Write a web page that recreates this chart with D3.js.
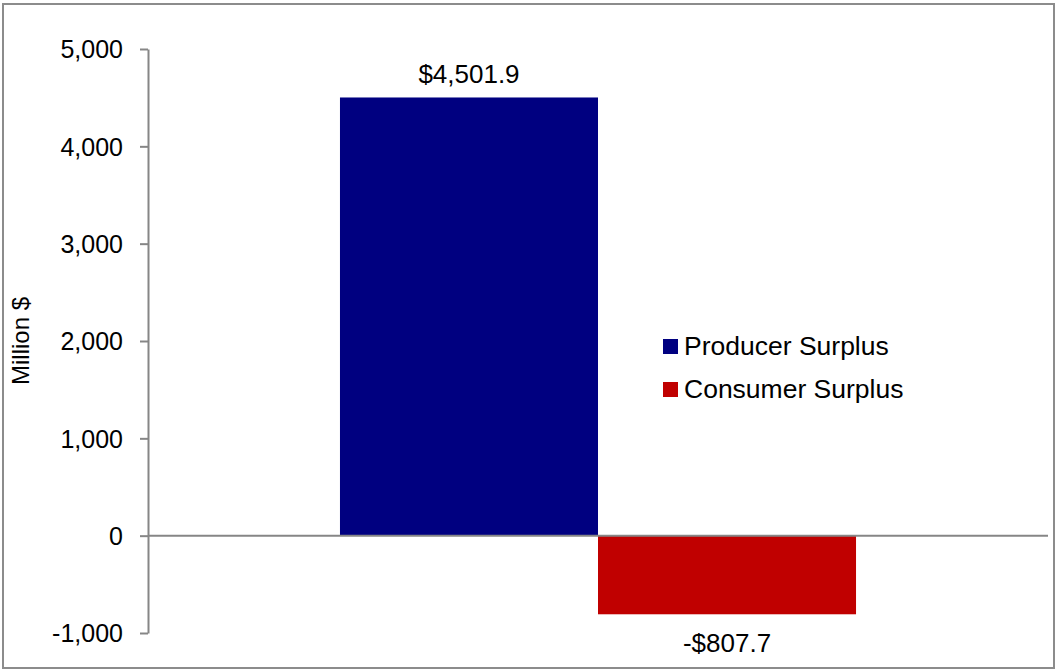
<!DOCTYPE html>
<html>
<head>
<meta charset="utf-8">
<script src="https://cdn.jsdelivr.net/npm/d3@7"></script>
<style>
  body { margin: 0; background: #fff; }
  svg text { font-family: "Liberation Sans", Arial, sans-serif; fill: #000; }
</style>
</head>
<body>
<svg id="chart"></svg>
<script>
// chart data
const categories = [''];
const seriesNames = ['Producer Surplus', 'Consumer Surplus'];
const seriesValues = [4501.9, -807.7];
const seriesLabels = ['$4,501.9', '-$807.7'];
const seriesColors = ['#000080', '#C00000'];
const yTicks = [-1000, 0, 1000, 2000, 3000, 4000, 5000];

const width = 1056, height = 670;
const margin = {top: 49, right: 8, bottom: 37, left: 148};
const innerW = width - margin.left - margin.right;
const innerH = height - margin.top - margin.bottom;

const svg = d3.select('#chart')
  .attr('width', width)
  .attr('height', height);

// outer frame
svg.append('rect')
  .attr('x', 3).attr('y', 4)
  .attr('width', 1051).attr('height', 664)
  .attr('fill', 'none')
  .attr('stroke', '#8c8c8c')
  .attr('stroke-width', 2);

const chart = svg.append('g')
  .attr('transform', `translate(${margin.left},${margin.top})`);

const yScale = d3.scaleLinear()
  .domain([-1000, 5000])
  .range([innerH, 0]);

const xScale = d3.scaleBand()
  .domain(categories)
  .range([0, innerW])
  .paddingInner(0)
  .paddingOuter(0.372);

const xSub = d3.scaleBand()
  .domain(seriesNames)
  .range([0, xScale.bandwidth()]);

// y axis, plain hyphen for negatives like the original
const fmt = d3.format(',');
const yAxis = d3.axisLeft(yScale)
  .tickValues(yTicks)
  .tickFormat(d => fmt(d).replace('\u2212', '-'))
  .tickSize(8)
  .tickPadding(17)
  .tickSizeOuter(0);

const yAxisG = chart.append('g').attr('class', 'axis y-axis').call(yAxis);
yAxisG.select('.domain').attr('stroke', '#868686').attr('stroke-width', 2);
yAxisG.selectAll('.tick line').attr('stroke', '#868686').attr('stroke-width', 2);
yAxisG.selectAll('.tick text')
  .style('font-size', '25px')
  .attr('dy', '0.35em');

// y axis title
chart.append('text')
  .attr('transform', `translate(${-127},${innerH / 2}) rotate(-90)`)
  .attr('text-anchor', 'middle')
  .attr('dy', '0.35em')
  .style('font-size', '24px')
  .text('Million $');

const data = seriesNames.map((name, i) => ({
  name, value: seriesValues[i], label: seriesLabels[i], color: seriesColors[i]
}));

// bars
chart.selectAll('.bar')
  .data(data)
  .join('rect')
  .attr('class', 'bar')
  .attr('x', d => xScale('') + xSub(d.name))
  .attr('width', xSub.bandwidth())
  .attr('y', d => yScale(Math.max(0, d.value)))
  .attr('height', d => Math.abs(yScale(d.value) - yScale(0)))
  .attr('fill', d => d.color);

// zero line
chart.append('line')
  .attr('x1', 0).attr('x2', innerW)
  .attr('y1', yScale(0)).attr('y2', yScale(0))
  .attr('stroke', '#868686')
  .attr('stroke-width', 2);

// value labels
chart.selectAll('.value-label')
  .data(data)
  .join('text')
  .attr('class', 'value-label')
  .attr('x', d => xScale('') + xSub(d.name) + xSub.bandwidth() / 2)
  .attr('y', d => d.value >= 0 ? yScale(d.value) - 14 : yScale(d.value) + 38)
  .attr('text-anchor', 'middle')
  .style('font-size', '26px')
  .text(d => d.label);

// legend
const legend = svg.append('g').attr('transform', 'translate(663,339)');
const items = legend.selectAll('.legend-item')
  .data(data)
  .join('g')
  .attr('class', 'legend-item')
  .attr('transform', (d, i) => `translate(0,${i * 43})`);

items.append('rect')
  .attr('width', 15).attr('height', 15)
  .attr('fill', d => d.color);

items.append('text')
  .attr('x', 21)
  .attr('y', 16)
  .style('font-size', '26.5px')
  .text(d => d.name);
</script>
</body>
</html>
